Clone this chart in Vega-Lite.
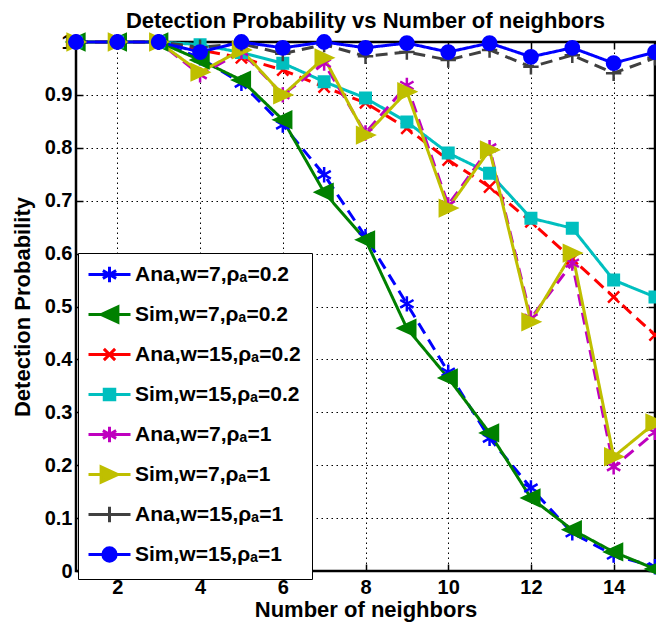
{
  "$schema": "https://vega.github.io/schema/vega-lite/v6.json",
  "width": 579,
  "height": 529,
  "autosize": {"type": "none"},
  "padding": {"left": 76, "top": 42, "right": 1, "bottom": 55},
  "background": "white",
  "title": {
    "text": "Detection Probability vs Number of neighbors",
    "font": "Liberation Sans",
    "fontSize": 22,
    "fontWeight": "bold",
    "color": "black",
    "anchor": "middle",
    "offset": -4
  },
  "config": {
    "view": {"stroke": "black", "strokeWidth": 2.5},
    "axis": {
      "labelFont": "Liberation Sans",
      "labelFontWeight": "bold",
      "labelFontSize": 20,
      "labelColor": "black",
      "titleFont": "Liberation Sans",
      "titleFontWeight": "bold",
      "titleFontSize": 22,
      "titleColor": "black",
      "domain": false,
      "tickColor": "black",
      "tickWidth": 1.5,
      "tickSize": -7,
      "gridColor": "black",
      "gridDash": [1.5, 3.5],
      "gridWidth": 1,
      "gridOpacity": 1
    },
    "legend": {
      "orient": "none",
      "legendX": 2,
      "legendY": 211,
      "padding": 11,
      "fillColor": "white",
      "strokeColor": "black",
      "cornerRadius": 0,
      "gridAlign": "all",
      "rowPadding": 11,
      "symbolSize": 196,
      "symbolStrokeWidth": 3,
      "symbolOffset": 10,
      "labelOffset": 15,
      "labelFont": "Liberation Sans",
      "labelFontWeight": "bold",
      "labelFontSize": 21,
      "labelColor": "black",
      "labelLimit": 400
    }
  },
  "datasets": {
    "curves": [
      {"n": 1, "series": "Ana,w=7,ρₐ=0.2", "p": 1}, {"n": 2, "series": "Ana,w=7,ρₐ=0.2", "p": 1}, {"n": 3, "series": "Ana,w=7,ρₐ=0.2", "p": 1}, {"n": 4, "series": "Ana,w=7,ρₐ=0.2", "p": 0.97}, {"n": 5, "series": "Ana,w=7,ρₐ=0.2", "p": 0.922}, {"n": 6, "series": "Ana,w=7,ρₐ=0.2", "p": 0.843}, {"n": 7, "series": "Ana,w=7,ρₐ=0.2", "p": 0.749}, {"n": 8, "series": "Ana,w=7,ρₐ=0.2", "p": 0.632}, {"n": 9, "series": "Ana,w=7,ρₐ=0.2", "p": 0.505}, {"n": 10, "series": "Ana,w=7,ρₐ=0.2", "p": 0.376}, {"n": 11, "series": "Ana,w=7,ρₐ=0.2", "p": 0.251}, {"n": 12, "series": "Ana,w=7,ρₐ=0.2", "p": 0.157}, {"n": 13, "series": "Ana,w=7,ρₐ=0.2", "p": 0.072}, {"n": 14, "series": "Ana,w=7,ρₐ=0.2", "p": 0.03}, {"n": 15, "series": "Ana,w=7,ρₐ=0.2", "p": 0.008},
      {"n": 1, "series": "Sim,w=7,ρₐ=0.2", "p": 1}, {"n": 2, "series": "Sim,w=7,ρₐ=0.2", "p": 1}, {"n": 3, "series": "Sim,w=7,ρₐ=0.2", "p": 1}, {"n": 4, "series": "Sim,w=7,ρₐ=0.2", "p": 0.966}, {"n": 5, "series": "Sim,w=7,ρₐ=0.2", "p": 0.928}, {"n": 6, "series": "Sim,w=7,ρₐ=0.2", "p": 0.853}, {"n": 7, "series": "Sim,w=7,ρₐ=0.2", "p": 0.716}, {"n": 8, "series": "Sim,w=7,ρₐ=0.2", "p": 0.626}, {"n": 9, "series": "Sim,w=7,ρₐ=0.2", "p": 0.459}, {"n": 10, "series": "Sim,w=7,ρₐ=0.2", "p": 0.365}, {"n": 11, "series": "Sim,w=7,ρₐ=0.2", "p": 0.261}, {"n": 12, "series": "Sim,w=7,ρₐ=0.2", "p": 0.138}, {"n": 13, "series": "Sim,w=7,ρₐ=0.2", "p": 0.078}, {"n": 14, "series": "Sim,w=7,ρₐ=0.2", "p": 0.036}, {"n": 15, "series": "Sim,w=7,ρₐ=0.2", "p": 0.004},
      {"n": 1, "series": "Ana,w=15,ρₐ=0.2", "p": 1}, {"n": 2, "series": "Ana,w=15,ρₐ=0.2", "p": 1}, {"n": 3, "series": "Ana,w=15,ρₐ=0.2", "p": 1}, {"n": 4, "series": "Ana,w=15,ρₐ=0.2", "p": 0.985}, {"n": 5, "series": "Ana,w=15,ρₐ=0.2", "p": 0.97}, {"n": 6, "series": "Ana,w=15,ρₐ=0.2", "p": 0.947}, {"n": 7, "series": "Ana,w=15,ρₐ=0.2", "p": 0.915}, {"n": 8, "series": "Ana,w=15,ρₐ=0.2", "p": 0.885}, {"n": 9, "series": "Ana,w=15,ρₐ=0.2", "p": 0.837}, {"n": 10, "series": "Ana,w=15,ρₐ=0.2", "p": 0.777}, {"n": 11, "series": "Ana,w=15,ρₐ=0.2", "p": 0.726}, {"n": 12, "series": "Ana,w=15,ρₐ=0.2", "p": 0.66}, {"n": 13, "series": "Ana,w=15,ρₐ=0.2", "p": 0.59}, {"n": 14, "series": "Ana,w=15,ρₐ=0.2", "p": 0.518}, {"n": 15, "series": "Ana,w=15,ρₐ=0.2", "p": 0.446},
      {"n": 1, "series": "Sim,w=15,ρₐ=0.2", "p": 1}, {"n": 2, "series": "Sim,w=15,ρₐ=0.2", "p": 1}, {"n": 3, "series": "Sim,w=15,ρₐ=0.2", "p": 1}, {"n": 4, "series": "Sim,w=15,ρₐ=0.2", "p": 0.995}, {"n": 5, "series": "Sim,w=15,ρₐ=0.2", "p": 0.98}, {"n": 6, "series": "Sim,w=15,ρₐ=0.2", "p": 0.96}, {"n": 7, "series": "Sim,w=15,ρₐ=0.2", "p": 0.925}, {"n": 8, "series": "Sim,w=15,ρₐ=0.2", "p": 0.894}, {"n": 9, "series": "Sim,w=15,ρₐ=0.2", "p": 0.849}, {"n": 10, "series": "Sim,w=15,ρₐ=0.2", "p": 0.79}, {"n": 11, "series": "Sim,w=15,ρₐ=0.2", "p": 0.752}, {"n": 12, "series": "Sim,w=15,ρₐ=0.2", "p": 0.667}, {"n": 13, "series": "Sim,w=15,ρₐ=0.2", "p": 0.648}, {"n": 14, "series": "Sim,w=15,ρₐ=0.2", "p": 0.55}, {"n": 15, "series": "Sim,w=15,ρₐ=0.2", "p": 0.518},
      {"n": 1, "series": "Ana,w=7,ρₐ=1", "p": 1}, {"n": 2, "series": "Ana,w=7,ρₐ=1", "p": 1}, {"n": 3, "series": "Ana,w=7,ρₐ=1", "p": 1}, {"n": 4, "series": "Ana,w=7,ρₐ=1", "p": 0.938}, {"n": 5, "series": "Ana,w=7,ρₐ=1", "p": 0.982}, {"n": 6, "series": "Ana,w=7,ρₐ=1", "p": 0.9}, {"n": 7, "series": "Ana,w=7,ρₐ=1", "p": 0.96}, {"n": 8, "series": "Ana,w=7,ρₐ=1", "p": 0.828}, {"n": 9, "series": "Ana,w=7,ρₐ=1", "p": 0.918}, {"n": 10, "series": "Ana,w=7,ρₐ=1", "p": 0.692}, {"n": 11, "series": "Ana,w=7,ρₐ=1", "p": 0.8}, {"n": 12, "series": "Ana,w=7,ρₐ=1", "p": 0.478}, {"n": 13, "series": "Ana,w=7,ρₐ=1", "p": 0.582}, {"n": 14, "series": "Ana,w=7,ρₐ=1", "p": 0.197}, {"n": 15, "series": "Ana,w=7,ρₐ=1", "p": 0.262},
      {"n": 1, "series": "Sim,w=7,ρₐ=1", "p": 1}, {"n": 2, "series": "Sim,w=7,ρₐ=1", "p": 1}, {"n": 3, "series": "Sim,w=7,ρₐ=1", "p": 1}, {"n": 4, "series": "Sim,w=7,ρₐ=1", "p": 0.943}, {"n": 5, "series": "Sim,w=7,ρₐ=1", "p": 0.985}, {"n": 6, "series": "Sim,w=7,ρₐ=1", "p": 0.9}, {"n": 7, "series": "Sim,w=7,ρₐ=1", "p": 0.97}, {"n": 8, "series": "Sim,w=7,ρₐ=1", "p": 0.824}, {"n": 9, "series": "Sim,w=7,ρₐ=1", "p": 0.906}, {"n": 10, "series": "Sim,w=7,ρₐ=1", "p": 0.686}, {"n": 11, "series": "Sim,w=7,ρₐ=1", "p": 0.796}, {"n": 12, "series": "Sim,w=7,ρₐ=1", "p": 0.471}, {"n": 13, "series": "Sim,w=7,ρₐ=1", "p": 0.601}, {"n": 14, "series": "Sim,w=7,ρₐ=1", "p": 0.216}, {"n": 15, "series": "Sim,w=7,ρₐ=1", "p": 0.28},
      {"n": 1, "series": "Ana,w=15,ρₐ=1", "p": 1}, {"n": 2, "series": "Ana,w=15,ρₐ=1", "p": 1}, {"n": 3, "series": "Ana,w=15,ρₐ=1", "p": 1}, {"n": 4, "series": "Ana,w=15,ρₐ=1", "p": 0.99}, {"n": 5, "series": "Ana,w=15,ρₐ=1", "p": 0.997}, {"n": 6, "series": "Ana,w=15,ρₐ=1", "p": 0.978}, {"n": 7, "series": "Ana,w=15,ρₐ=1", "p": 0.995}, {"n": 8, "series": "Ana,w=15,ρₐ=1", "p": 0.973}, {"n": 9, "series": "Ana,w=15,ρₐ=1", "p": 0.981}, {"n": 10, "series": "Ana,w=15,ρₐ=1", "p": 0.966}, {"n": 11, "series": "Ana,w=15,ρₐ=1", "p": 0.985}, {"n": 12, "series": "Ana,w=15,ρₐ=1", "p": 0.953}, {"n": 13, "series": "Ana,w=15,ρₐ=1", "p": 0.975}, {"n": 14, "series": "Ana,w=15,ρₐ=1", "p": 0.941}, {"n": 15, "series": "Ana,w=15,ρₐ=1", "p": 0.97},
      {"n": 1, "series": "Sim,w=15,ρₐ=1", "p": 1}, {"n": 2, "series": "Sim,w=15,ρₐ=1", "p": 1}, {"n": 3, "series": "Sim,w=15,ρₐ=1", "p": 1}, {"n": 4, "series": "Sim,w=15,ρₐ=1", "p": 0.981}, {"n": 5, "series": "Sim,w=15,ρₐ=1", "p": 1}, {"n": 6, "series": "Sim,w=15,ρₐ=1", "p": 0.989}, {"n": 7, "series": "Sim,w=15,ρₐ=1", "p": 1}, {"n": 8, "series": "Sim,w=15,ρₐ=1", "p": 0.989}, {"n": 9, "series": "Sim,w=15,ρₐ=1", "p": 0.998}, {"n": 10, "series": "Sim,w=15,ρₐ=1", "p": 0.981}, {"n": 11, "series": "Sim,w=15,ρₐ=1", "p": 0.998}, {"n": 12, "series": "Sim,w=15,ρₐ=1", "p": 0.972}, {"n": 13, "series": "Sim,w=15,ρₐ=1", "p": 0.989}, {"n": 14, "series": "Sim,w=15,ρₐ=1", "p": 0.96}, {"n": 15, "series": "Sim,w=15,ρₐ=1", "p": 0.981}
    ]
  },
  "data": {"name": "curves"},
  "resolve": {
    "axis": {"x": "independent", "y": "independent"},
    "scale": {"color": "independent", "shape": "independent", "stroke": "independent"}
  },
  "layer": [
    {
      "mark": {"type": "line", "strokeWidth": 3, "strokeJoin": "round"},
      "encoding": {
        "x": {
          "field": "n", "type": "quantitative",
          "scale": {"domain": [1, 15], "nice": false, "zero": false},
          "axis": {"orient": "bottom", "values": [2, 4, 6, 8, 10, 12, 14], "grid": true, "labelPadding": 13, "title": "Number of neighbors", "titlePadding": 2}
        },
        "y": {
          "field": "p", "type": "quantitative",
          "scale": {"domain": [0, 1], "nice": false},
          "axis": {"orient": "left", "values": [0, 0.1, 0.2, 0.3, 0.4, 0.5, 0.6, 0.7, 0.8, 0.9, 1], "format": "~g", "grid": true, "labelPadding": 11, "title": "Detection Probability", "titlePadding": 10}
        },
        "color": {
          "field": "series", "type": "nominal",
          "scale": {
            "domain": ["Ana,w=7,ρₐ=0.2", "Sim,w=7,ρₐ=0.2", "Ana,w=15,ρₐ=0.2", "Sim,w=15,ρₐ=0.2", "Ana,w=7,ρₐ=1", "Sim,w=7,ρₐ=1", "Ana,w=15,ρₐ=1", "Sim,w=15,ρₐ=1"],
            "range": ["#0000ff", "#008000", "#ff0000", "#00bfbf", "#bf00bf", "#bfbf00", "#404040", "#0000ff"]
          },
          "legend": null
        },
        "strokeDash": {
          "field": "series", "type": "nominal",
          "scale": {
            "domain": ["Ana,w=7,ρₐ=0.2", "Sim,w=7,ρₐ=0.2", "Ana,w=15,ρₐ=0.2", "Sim,w=15,ρₐ=0.2", "Ana,w=7,ρₐ=1", "Sim,w=7,ρₐ=1", "Ana,w=15,ρₐ=1", "Sim,w=15,ρₐ=1"],
            "range": [[12, 7], [1, 0], [12, 7], [1, 0], [12, 7], [1, 0], [12, 7], [1, 0]]
          },
          "legend": null
        }
      }
    },
    {
      "mark": {"type": "point", "filled": true, "opacity": 1, "strokeWidth": 2.5, "size": 196},
      "encoding": {
        "x": {
          "field": "n", "type": "quantitative",
          "scale": {"domain": [1, 15], "nice": false, "zero": false},
          "axis": {"orient": "top", "values": [2, 4, 6, 8, 10, 12, 14], "grid": false, "labels": false, "title": null}
        },
        "y": {
          "field": "p", "type": "quantitative",
          "scale": {"domain": [0, 1], "nice": false},
          "axis": {"orient": "right", "values": [0, 0.1, 0.2, 0.3, 0.4, 0.5, 0.6, 0.7, 0.8, 0.9, 1], "grid": false, "labels": false, "title": null}
        },
        "color": {
          "field": "series", "type": "nominal",
          "scale": {
            "domain": ["Ana,w=7,ρₐ=0.2", "Sim,w=7,ρₐ=0.2", "Ana,w=15,ρₐ=0.2", "Sim,w=15,ρₐ=0.2", "Ana,w=7,ρₐ=1", "Sim,w=7,ρₐ=1", "Ana,w=15,ρₐ=1", "Sim,w=15,ρₐ=1"],
            "range": ["#0000ff", "#008000", "#ff0000", "#00bfbf", "#bf00bf", "#bfbf00", "#404040", "#0000ff"]
          },
          "legend": null
        },
        "stroke": {
          "field": "series", "type": "nominal",
          "scale": {
            "domain": ["Ana,w=7,ρₐ=0.2", "Sim,w=7,ρₐ=0.2", "Ana,w=15,ρₐ=0.2", "Sim,w=15,ρₐ=0.2", "Ana,w=7,ρₐ=1", "Sim,w=7,ρₐ=1", "Ana,w=15,ρₐ=1", "Sim,w=15,ρₐ=1"],
            "range": ["#0000ff", "#008000", "#ff0000", "#00bfbf", "#bf00bf", "#bfbf00", "#404040", "#0000ff"]
          },
          "legend": null
        },
        "shape": {
          "field": "series", "type": "nominal",
          "scale": {
            "domain": ["Ana,w=7,ρₐ=0.2", "Sim,w=7,ρₐ=0.2", "Ana,w=15,ρₐ=0.2", "Sim,w=15,ρₐ=0.2", "Ana,w=7,ρₐ=1", "Sim,w=7,ρₐ=1", "Ana,w=15,ρₐ=1", "Sim,w=15,ρₐ=1"],
            "range": [
              "M0,-1.1L0,1.1M-0.95,-0.55L0.95,0.55M-0.95,0.55L0.95,-0.55",
              "M-1.2,0L1.2,-1.1L1.2,1.1Z",
              "M-0.8,-0.8L0.8,0.8M-0.8,0.8L0.8,-0.8",
              "M-0.75,-0.75L0.75,-0.75L0.75,0.75L-0.75,0.75Z",
              "M0,-1.1L0,1.1M-0.95,-0.55L0.95,0.55M-0.95,0.55L0.95,-0.55",
              "M1.2,0L-1.2,-1.1L-1.2,1.1Z",
              "M0,-1.1L0,1.1M-1.1,0L1.1,0",
              "M0.95,0A0.95,0.95,0,1,1,-0.95,0A0.95,0.95,0,1,1,0.95,0Z"
            ]
          },
          "legend": null
        }
      }
    },
    {
      "transform": [{"filter": "datum.n > 100"}],
      "mark": {"type": "point", "filled": true, "opacity": 1, "strokeWidth": 3, "size": 196},
      "encoding": {
        "x": {"field": "n", "type": "quantitative", "scale": {"domain": [1, 15], "nice": false, "zero": false}, "axis": null},
        "y": {"field": "p", "type": "quantitative", "scale": {"domain": [0, 1], "nice": false}, "axis": null},
        "color": {
          "field": "series", "type": "nominal",
          "scale": {
            "domain": ["Ana,w=7,ρₐ=0.2", "Sim,w=7,ρₐ=0.2", "Ana,w=15,ρₐ=0.2", "Sim,w=15,ρₐ=0.2", "Ana,w=7,ρₐ=1", "Sim,w=7,ρₐ=1", "Ana,w=15,ρₐ=1", "Sim,w=15,ρₐ=1"],
            "range": ["#0000ff", "#008000", "#ff0000", "#00bfbf", "#bf00bf", "#bfbf00", "#404040", "#0000ff"]
          },
          "legend": {"title": null, "symbolStrokeWidth": 3}
        },
        "stroke": {
          "field": "series", "type": "nominal",
          "scale": {
            "domain": ["Ana,w=7,ρₐ=0.2", "Sim,w=7,ρₐ=0.2", "Ana,w=15,ρₐ=0.2", "Sim,w=15,ρₐ=0.2", "Ana,w=7,ρₐ=1", "Sim,w=7,ρₐ=1", "Ana,w=15,ρₐ=1", "Sim,w=15,ρₐ=1"],
            "range": ["#0000ff", "#008000", "#ff0000", "#00bfbf", "#bf00bf", "#bfbf00", "#404040", "#0000ff"]
          },
          "legend": {"title": null, "symbolStrokeWidth": 3}
        },
        "shape": {
          "field": "series", "type": "nominal",
          "scale": {
            "domain": ["Ana,w=7,ρₐ=0.2", "Sim,w=7,ρₐ=0.2", "Ana,w=15,ρₐ=0.2", "Sim,w=15,ρₐ=0.2", "Ana,w=7,ρₐ=1", "Sim,w=7,ρₐ=1", "Ana,w=15,ρₐ=1", "Sim,w=15,ρₐ=1"],
            "range": [
              "M-3,0L3,0M0,-1.1L0,1.1M-0.95,-0.55L0.95,0.55M-0.95,0.55L0.95,-0.55",
              "M-3,0L3,0M-1.2,0L1.2,-1.1L1.2,1.1Z",
              "M-3,0L3,0M-0.8,-0.8L0.8,0.8M-0.8,0.8L0.8,-0.8",
              "M-3,0L3,0M-0.75,-0.75L0.75,-0.75L0.75,0.75L-0.75,0.75Z",
              "M-3,0L3,0M0,-1.1L0,1.1M-0.95,-0.55L0.95,0.55M-0.95,0.55L0.95,-0.55",
              "M-3,0L3,0M1.2,0L-1.2,-1.1L-1.2,1.1Z",
              "M-3,0L3,0M0,-1.1L0,1.1M-1.1,0L1.1,0",
              "M-3,0L3,0M0.95,0A0.95,0.95,0,1,1,-0.95,0A0.95,0.95,0,1,1,0.95,0Z"
            ]
          },
          "legend": {"title": null, "symbolStrokeWidth": 3}
        }
      }
    }
  ]
}
